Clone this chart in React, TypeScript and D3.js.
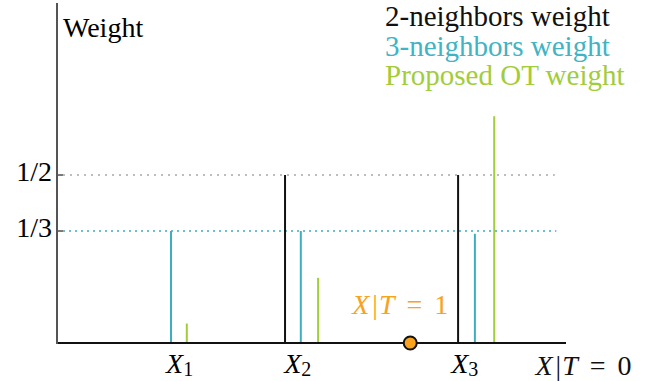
import * as d3 from "d3";

// positions are in axis units (0..10), weights in probability units
const categories = ["1", "2", "3"];
const categoryPos = [2.41, 4.73, 8.01];
const twoNbPos = [4.48, 7.88];
const twoNbWeight = [0.5, 0.5];
const threeNbPos = [2.24, 4.79, 8.21];
const threeNbWeight = [1 / 3, 1 / 3, 0.325];
const otPos = [2.55, 5.13, 8.59];
const otWeight = [0.058, 0.194, 0.675];
const treatedPos = [6.94];
const yTicks = [1 / 2, 1 / 3];
const yTickLabels = ["1/2", "1/3"];
const legendLabels = ["2-neighbors weight", "3-neighbors weight", "Proposed OT weight"];

const BLACK = "#111111";
const TEAL = "#3aafbf";
const GREEN = "#a2cd3a";
const ORANGE = "#f8a21e";
const FONT = "Tinos, Liberation Serif, FreeSerif, Times New Roman, serif";

const x = d3.scaleLinear().domain([0, 10]).range([57, 566]);
const y = d3.scaleLinear().domain([0, 1.012]).range([343, 3]);

function MathLabel({ tx, ty, v, color }: { tx: number; ty: number; v: string; color: string }) {
  return (
    <text x={tx} y={ty} fill={color} fontFamily={FONT} fontSize={28}>
      <tspan fontStyle="italic">X</tspan>
      <tspan dx={3}>|</tspan>
      <tspan dx={1} fontStyle="italic">T</tspan>
      <tspan dx={12}>=</tspan>
      <tspan dx={12}>{v}</tspan>
    </text>
  );
}

export default function App() {
  const stems = (pos: number[], vals: number[], color: string) =>
    vals.map((d, i) => (
      <line
        key={color + i}
        x1={x(pos[i])}
        x2={x(pos[i])}
        y1={y(0)}
        y2={y(d)}
        stroke={color}
        strokeWidth={2}
      />
    ));
  const gridColors = ["#a8a8a8", TEAL];
  const gridEnd = [9.78, 9.81];
  const legendColors = [BLACK, "#40b4c4", GREEN];

  return (
    <svg width={645} height={381} style={{ position: "absolute", left: 0, top: 0 }}>
      {/* dotted reference lines */}
      {yTicks.map((d, i) => (
        <line
          key={"g" + i}
          x1={x(0) + 6}
          x2={x(gridEnd[i])}
          y1={y(d)}
          y2={y(d)}
          stroke={gridColors[i]}
          strokeWidth={1.3}
          strokeDasharray={i === 0 ? "2 5" : "2 4"}
        />
      ))}
      {yTicks.map((d, i) => (
        <g key={"t" + i}>
          <line x1={x(0)} x2={x(0) + 6} y1={y(d)} y2={y(d)} stroke="#333" strokeWidth={1.3} />
          <text x={x(0) - 5} y={y(d) + 6} textAnchor="end" fontSize={28} fontFamily={FONT}>
            {yTickLabels[i]}
          </text>
        </g>
      ))}

      {stems(twoNbPos, twoNbWeight, BLACK)}
      {stems(threeNbPos, threeNbWeight, TEAL)}
      {stems(otPos, otWeight, GREEN)}

      {/* axes */}
      <line x1={x(0)} x2={x(10)} y1={y(0)} y2={y(0)} stroke={BLACK} strokeWidth={2} />
      <line x1={x(0)} x2={x(0)} y1={y(0) + 1} y2={y(1.012)} stroke="#555" strokeWidth={2} />

      {treatedPos.map((d, i) => (
        <circle key={"c" + i} cx={x(d)} cy={y(0)} r={6.5} fill={ORANGE} stroke={BLACK} strokeWidth={2} />
      ))}

      <MathLabel tx={x(treatedPos[0]) - 58} ty={314} v="1" color={ORANGE} />
      <MathLabel tx={x(9.4)} ty={375} v="0" color={BLACK} />

      {categories.map((c, i) => (
        <text key={"x" + i} x={x(categoryPos[i])} y={373} textAnchor="middle" fontFamily={FONT} fontSize={28}>
          <tspan fontStyle="italic">X</tspan>
          <tspan dy={3} fontSize={20}>
            {c}
          </tspan>
        </text>
      ))}

      <text x={63} y={37} fontFamily={FONT} fontSize={28}>
        Weight
      </text>

      {legendLabels.map((d, i) => (
        <text
          key={"l" + i}
          x={385}
          y={26 + i * 29.5}
          fill={legendColors[i]}
          fontFamily={FONT}
          fontSize={29}
        >
          {d}
        </text>
      ))}
    </svg>
  );
}
